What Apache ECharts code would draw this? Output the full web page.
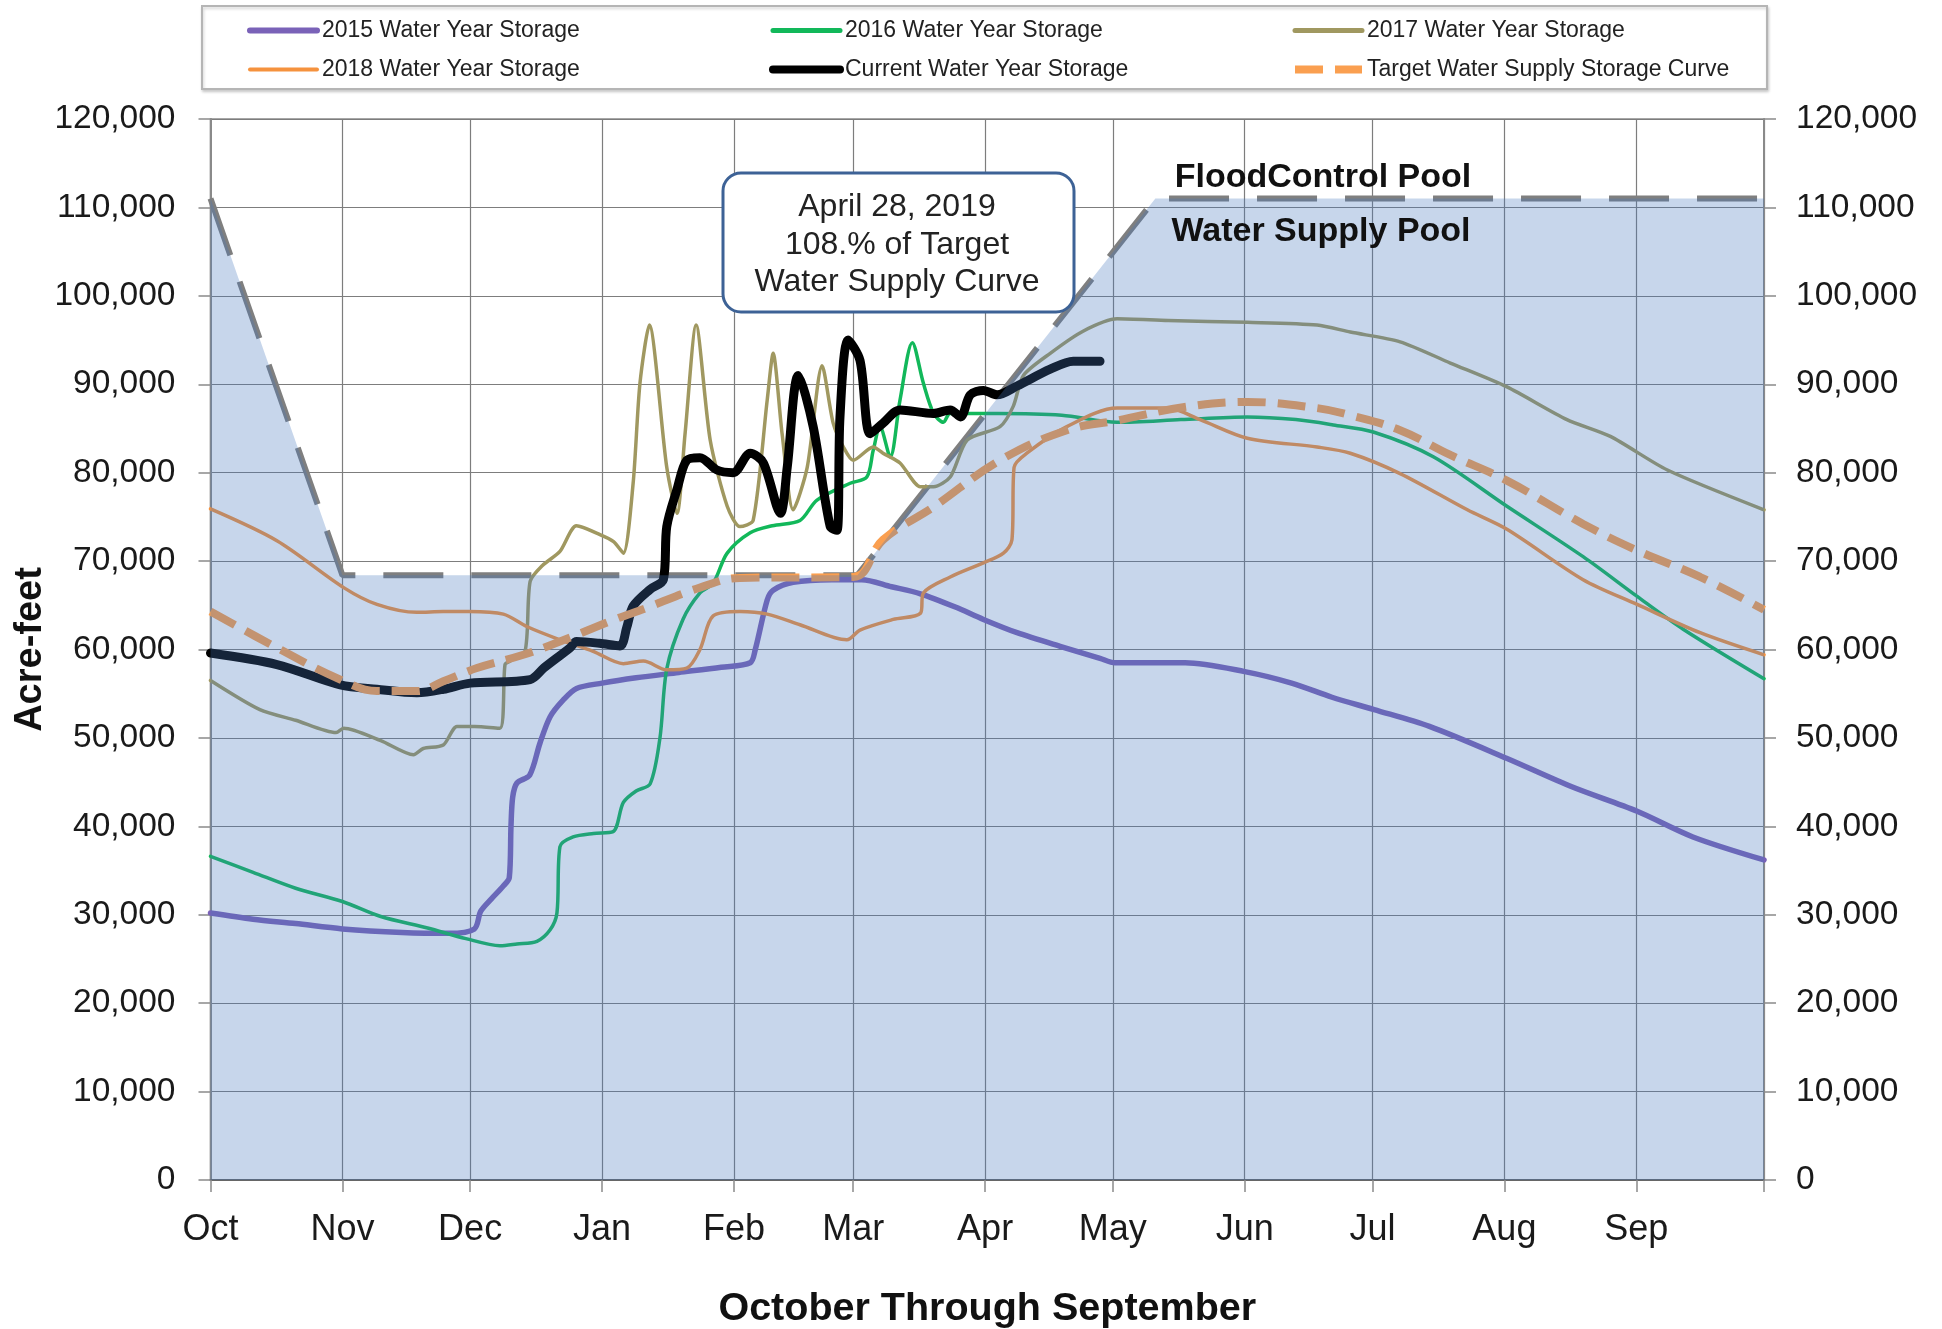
<!DOCTYPE html>
<html>
<head>
<meta charset="utf-8">
<script src="https://cdn.jsdelivr.net/npm/echarts@6/dist/echarts.min.js"></script>
<style>
html,body{margin:0;padding:0;background:#fff;}
#chart{width:1942px;height:1329px;}
</style>
</head>
<body>
<div id="chart"></div>
<script>
// ---- Axis definitions ----
const monthNames = ['Oct','Nov','Dec','Jan','Feb','Mar','Apr','May','Jun','Jul','Aug','Sep'];
const monthStartDays = [0,31,61,92,123,151,182,212,243,273,304,335,365];
const yMin = 0, yMax = 120000, yStep = 10000;

// ---- Series data: [day of water year, acre-feet] ----
const wy2015 = [[0,30200],[10,29500],[20,29000],[31,28400],[45,28000],[56,27900],[62,28400],[63.5,30400],[66,31800],[68.7,33200],[70.2,34200],[70.6,40000],[71,43300],[72,44900],[75,45800],[77.4,49400],[79.8,52400],[82.9,54300],[86,55600],[92,56200],[100,56800],[110,57400],[120,58000],[126.8,58500],[128,60000],[130.8,65600],[132.2,66700],[136.9,67600],[146,67900],[153,67900],[160,67100],[166.8,66300],[175,64800],[181.6,63400],[189.5,61900],[200,60300],[209,59000],[212.5,58500],[229,58500],[243,57500],[254,56200],[263.5,54600],[273.4,53200],[286.4,51300],[304.5,47700],[319.7,44500],[335.2,41700],[348.3,38800],[365,36200]];

const wy2016 = [[0,36600],[10,34800],[20,33000],[31,31500],[40,29800],[51,28500],[60,27300],[68,26500],[72,26700],[76.7,27000],[79.8,28300],[81.4,30200],[82.1,37700],[85.2,38800],[90,39200],[94.6,39400],[97,42700],[100,44000],[103.3,44800],[105.6,50000],[107.2,57800],[111,63400],[115,66400],[118.1,67500],[121.4,70900],[126.8,73200],[132,74000],[138.5,74600],[142.5,76900],[150.3,78800],[154.2,79500],[155.7,82500],[157.3,85200],[159.7,81800],[162,88200],[164.9,94700],[167.5,90100],[169.9,86700],[172.2,85700],[173.8,86700],[185,86700],[200,86500],[213,85700],[228,86000],[243.6,86300],[255,86000],[263.8,85400],[273.2,84600],[287.3,81800],[304.6,76200],[322.5,70500],[335.2,66000],[346,62300],[365,56700]];

const wy2017 = [[0,56500],[11.6,53200],[20,52000],[29.5,50600],[31.3,51100],[40,49700],[47.7,48100],[50,48800],[54.7,49200],[57.9,51300],[62,51300],[68,51100],[69.2,58300],[70.4,58700],[73.9,59800],[75.1,67700],[78,69500],[82.1,71100],[86,74000],[91.5,73000],[94.7,72200],[97,70900],[99.3,78800],[100.9,90100],[103.1,96700],[107.2,80600],[109.6,75400],[111.5,84400],[114.1,96700],[117.4,83700],[121.4,76200],[124.4,73900],[127.5,74600],[130.8,88200],[132.2,93500],[134.3,84400],[136.9,75800],[140.2,80600],[143.7,92100],[146.3,85600],[148.7,82900],[151,81400],[155.7,82900],[158,82200],[162,81100],[166.8,78400],[169.9,78400],[173.8,79500],[177.8,83700],[185.5,85200],[188.6,87500],[191,91000],[197.3,93500],[205,96000],[213,97400],[225,97200],[243.6,97000],[260,96700],[267.8,95900],[279.5,94800],[291.3,92400],[304.6,89700],[318.7,86000],[328.9,84100],[342.3,80300],[365,75800]];

const wy2018 = [[0,75900],[15.6,72300],[31.3,67000],[39.1,65100],[48.5,64200],[54.7,64300],[60.7,64300],[68.8,64000],[74.3,62600],[82.1,61100],[89.9,59800],[97,58400],[101.7,58700],[107.2,57700],[111.9,57900],[115,60000],[118.1,63800],[124.4,64300],[130.8,64000],[138.5,62800],[149.5,61100],[152.6,62200],[160.4,63400],[166.8,64100],[167.5,66400],[173.8,68200],[181.6,69800],[186.3,70900],[188.3,72400],[188.8,80600],[191.8,82200],[201.2,85200],[213,87300],[224.8,87300],[232.5,86000],[243.6,83900],[260,82900],[267.8,82200],[279.5,79900],[295.3,75800],[304.6,73600],[322.5,67900],[335.2,65100],[350,61900],[365,59400]];

const currentWY = [[0,59600],[15.6,58300],[30.5,56000],[39.1,55500],[48.5,55100],[54.7,55500],[61,56200],[75.1,56600],[78.3,57900],[84.5,60200],[86,60900],[91.4,60700],[96.2,60400],[97.8,62500],[99.3,64900],[103.3,66800],[106.4,67900],[107.2,73900],[109.6,78100],[111.9,81400],[115,81700],[119,80300],[122.8,80000],[126.8,82200],[129.9,81100],[133.9,75400],[135.5,80600],[138.1,91000],[141.6,85200],[145.6,73900],[147.2,73500],[147.9,86300],[149.8,95000],[152.6,92700],[155,84400],[158,85600],[162,87100],[169.8,86700],[173.8,87100],[176.2,86300],[178.5,88800],[181.6,89300],[184.8,88800],[189.5,89800],[197.3,91700],[202.7,92600],[209,92600]];

const targetCurve = [[0,64300],[15.6,60200],[30.5,56600],[39.1,55300],[48.5,55300],[54.7,56400],[62.6,57900],[73.5,59400],[82.1,60900],[93.9,63200],[102.4,64700],[115,67000],[124.4,68100],[151,68200],[158,72400],[169.8,76100],[185.5,81400],[201.2,84800],[213,85900],[228.5,87400],[243.6,88000],[260,87300],[267.8,86500],[279.5,84800],[291.3,82000],[304.6,79100],[322.5,74200],[335.2,71200],[350,68200],[365,64500]];

const floodControl = [[0,111000],[31,68400],[152,68400],[222,111000],[365,111000]];

// ---- Build option ----
const FONT = 'Liberation Sans, Arial, Helvetica, sans-serif';
const fmtNum = v => String(v).replace(/\B(?=(\d{3})+(?!\d))/g, ',');

const lineSeries = (name, data, color, width, smooth, extra) => Object.assign({
  name, type: 'line', data, symbol: 'none', showSymbol: false,
  smooth: smooth,
  lineStyle: { color, width, cap: 'round', join: 'round' },
  itemStyle: { color },
  emphasis: { disabled: true },
  z: 2
}, extra || {});

const legendBase = {
  orient: 'vertical', itemWidth: 67, itemHeight: 14, itemGap: 16,
  textStyle: { fontFamily: FONT, fontSize: 23, color: '#222' },
  itemStyle: { opacity: 0 },
  selectedMode: false, padding: 0
};

const option = {
  animation: false,
  backgroundColor: '#fff',
  grid: { left: 210.5, right: 178, top: 119, bottom: 149, show: true, borderColor: '#8a8a8a', borderWidth: 1.5,
    backgroundColor: '#fff', containLabel: false, outerBoundsMode: 'none' },
  legend: [
    Object.assign({}, legendBase, { left: 247, top: 19, data: [
      { name: '2015 Water Year Storage', lineStyle: { width: 6 } },
      { name: '2018 Water Year Storage', lineStyle: { width: 4 } } ] }),
    Object.assign({}, legendBase, { left: 769, top: 19, data: [
      { name: '2016 Water Year Storage', lineStyle: { width: 5 } },
      { name: 'Current Water Year Storage', lineStyle: { width: 8 } } ] }),
    Object.assign({}, legendBase, { left: 1291, top: 19, data: [
      { name: '2017 Water Year Storage', lineStyle: { width: 5 } },
      { name: 'Target Water Supply Storage Curve', lineStyle: { width: 8 } } ] })
  ],
  xAxis: {
    type: 'value', min: 0, max: 365,
    name: 'October Through September', nameLocation: 'middle', nameGap: 109, nameMoveOverlap: false,
    nameTextStyle: { fontFamily: FONT, fontSize: 39.5, fontWeight: 'bold', color: '#111' },
    axisLine: { show: true, lineStyle: { color: '#666', width: 2 } },
    axisTick: { show: true, inside: false, length: 12, customValues: monthStartDays, lineStyle: { color: '#8a8a8a', width: 1.5 } },
    axisLabel: { customValues: monthStartDays.slice(0, 12), margin: 32, fontFamily: FONT, fontSize: 36, color: '#1a1a1a',
      formatter: v => monthNames[monthStartDays.indexOf(Math.round(v))] || '' },
    splitLine: { show: true, lineStyle: { color: '#7d7d7d', width: 1.2 } }
  },
  yAxis: [
    {
      type: 'value', min: yMin, max: yMax, interval: yStep, position: 'left',
      name: 'Acre-feet', nameLocation: 'middle', nameGap: 161, nameRotate: 90, nameMoveOverlap: false,
      nameTextStyle: { fontFamily: FONT, fontSize: 38, fontWeight: 'bold', color: '#111' },
      axisLine: { show: true, lineStyle: { color: '#8a8a8a', width: 2 } },
      axisTick: { show: true, inside: false, length: 12, lineStyle: { color: '#8a8a8a', width: 1.5 } },
      axisLabel: { margin: 35, fontFamily: FONT, fontSize: 33.5, color: '#1a1a1a', formatter: fmtNum },
      splitLine: { show: true, lineStyle: { color: '#7d7d7d', width: 1.2 } }
    },
    {
      type: 'value', min: yMin, max: yMax, interval: yStep, position: 'right',
      axisLine: { show: true, lineStyle: { color: '#8a8a8a', width: 2 } },
      axisTick: { show: true, inside: false, length: 12, lineStyle: { color: '#8a8a8a', width: 1.5 } },
      axisLabel: { margin: 32, fontFamily: FONT, fontSize: 33.5, color: '#1a1a1a', formatter: fmtNum },
      splitLine: { show: false }
    }
  ],
  series: [
    lineSeries('Flood Control Curve', floodControl, '#7f7f7f', 6, false, { lineStyle: { color: '#7f7f7f', width: 6, type: [60, 28], cap: 'butt' } }),
    lineSeries('2015 Water Year Storage', wy2015, '#7a62b8', 5.5, 0.3),
    lineSeries('2016 Water Year Storage', wy2016, '#12b85a', 3.5, 0.3),
    lineSeries('2017 Water Year Storage', wy2017, '#a09860', 3.5, 0.25),
    lineSeries('2018 Water Year Storage', wy2018, '#f5923e', 3.5, 0.3),
    lineSeries('Current Water Year Storage', currentWY, '#000000', 9, 0.3),
    lineSeries('Target Water Supply Storage Curve', targetCurve, '#fa9f50', 8, 0.4, { lineStyle: { color: '#fa9f50', width: 8, type: [28, 12], cap: 'butt' } }),
    {
      name: 'Water Supply Pool', type: 'line', data: floodControl, symbol: 'none', silent: true,
      lineStyle: { width: 0, opacity: 0 },
      areaStyle: { color: 'rgba(70,120,190,0.3)', opacity: 1 },
      emphasis: { disabled: true }, z: 3
    }
  ],
  graphic: [
    { type: 'rect', z: 1, shape: { x: 202, y: 6, width: 1565, height: 83 },
      style: { fill: '#fff', stroke: '#b5b5b5', lineWidth: 2, shadowBlur: 3, shadowOffsetX: 1, shadowOffsetY: 2, shadowColor: 'rgba(0,0,0,0.18)' } },
    { type: 'rect', z: 20, shape: { x: 723, y: 173, width: 351, height: 139, r: 18 },
      style: { fill: '#fff', stroke: '#3d6296', lineWidth: 3 } },
    { type: 'text', z: 21, style: { text: 'April 28, 2019\n108.% of Target\nWater Supply Curve', x: 897, y: 245,
      align: 'center', verticalAlign: 'middle', fontFamily: FONT, fontSize: 32, lineHeight: 37.5, fill: '#222' } },
    { type: 'text', z: 21, style: { text: 'FloodControl Pool', x: 1323, y: 178, align: 'center', verticalAlign: 'middle',
      fontFamily: FONT, fontSize: 34, fontWeight: 'bold', fill: '#111' } },
    { type: 'text', z: 21, style: { text: 'Water Supply Pool', x: 1321, y: 232, align: 'center', verticalAlign: 'middle',
      fontFamily: FONT, fontSize: 34, fontWeight: 'bold', fill: '#111' } }
  ]
};

const chart = echarts.init(document.getElementById('chart'), null, { renderer: 'canvas' });
chart.setOption(option);
</script>
</body>
</html>
